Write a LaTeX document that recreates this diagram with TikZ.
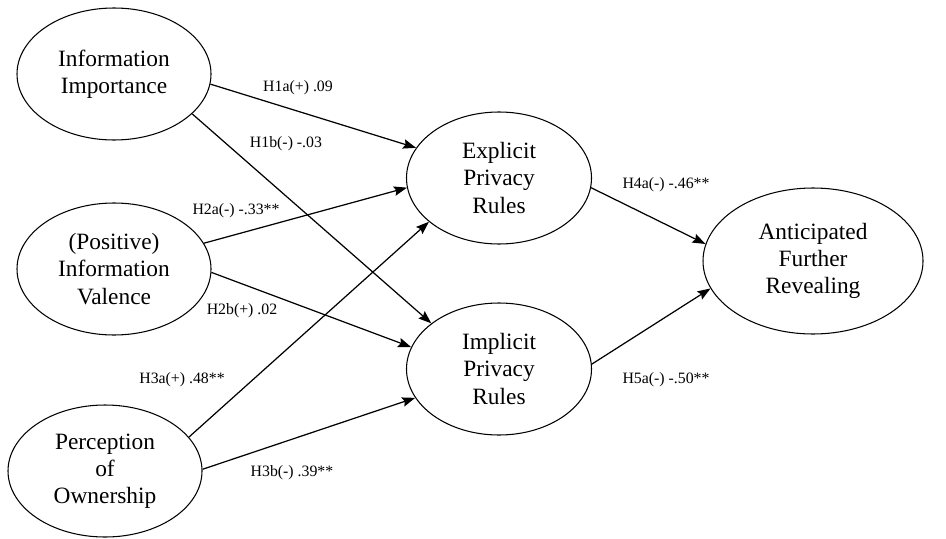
\documentclass[tikz,border=0pt]{standalone}
\usepackage{fontspec}
\setmainfont{Liberation Serif}
\usetikzlibrary{shapes.geometric,arrows.meta,positioning}
\tikzset{
    construct/.style={ellipse, draw=black, line width=0.6pt, minimum width=3.88cm, minimum height=2.64cm, inner sep=0pt, align=center, font=\fontsize{13.3}{15.5}\selectfont},
    rulebox/.style={construct, minimum width=3.7cm},
    outcome/.style={construct, minimum width=4.4cm, minimum height=2.92cm},
    arrow/.style={line width=0.7pt, -{Stealth[length=2.6mm, width=1.9mm, inset=0.4mm]}},
    coef/.style={font=\fontsize{9}{10}\selectfont, inner sep=1pt}
}
\begin{document}
\begin{tikzpicture}
\useasboundingbox (0,0) rectangle (18.92,10.76);

% Antecedents (left column)
\node[construct] (imp) at (2.28,9.28) {Information\\Importance};
\node[construct] (val) at (2.28,5.38) {(Positive)\\Information\\Valence};
\node[construct] (own) at (2.10,1.34) {Perception\\of\\Ownership};

% Privacy rules (middle column)
\node[rulebox] (expl) at (9.98,7.20) {Explicit\\Privacy\\Rules};
\node[rulebox] (impl) at (9.98,3.38) {Implicit\\Privacy\\Rules};

% Outcome
\node[outcome] (ant) at (16.26,5.54) {Anticipated\\Further\\Revealing};

% Paths
\draw[arrow] (imp.-6) -- (expl.160);
\draw[arrow] (imp.-27) -- (impl.146);
\draw[arrow] (val.16) -- (expl.186);
\draw[arrow] (val.-2) -- (impl.166);
\draw[arrow] (own.22) -- (expl.212);
\draw[arrow] (own.1) -- (impl.199);
\draw[arrow] (expl.-6) -- (ant.171);
\draw[arrow] (impl.3) -- (ant.195);

% Path coefficients
\node[coef] (h1a) at (5.96,9.00) {H1a(+) .09};
\node[coef] (h1b) at (5.72,7.88) {H1b(-) -.03};
\node[coef] (h2a) at (4.72,6.54) {H2a(-) -.33**};
\node[coef] (h2b) at (4.84,4.54) {H2b(+) .02};
\node[coef] (h3a) at (3.64,3.16) {H3a(+) .48**};
\node[coef] (h3b) at (5.84,1.30) {H3b(-) .39**};
\node[coef] (h4a) at (13.32,7.06) {H4a(-) -.46**};
\node[coef] (h5a) at (13.32,3.16) {H5a(-) -.50**};

\end{tikzpicture}
\end{document}
